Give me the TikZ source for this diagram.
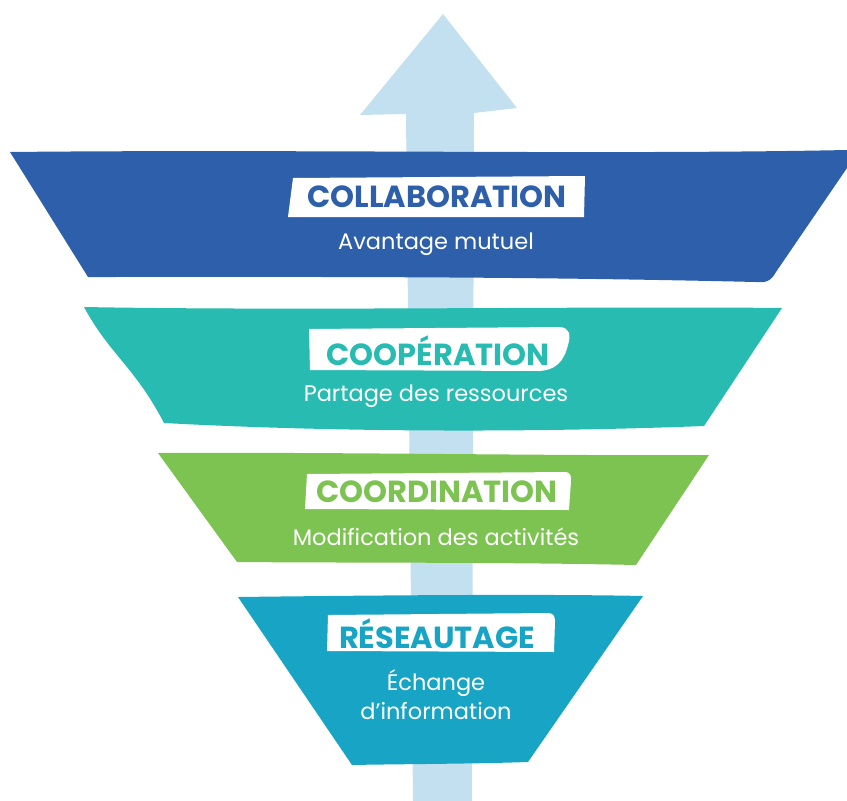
\documentclass[tikz,border=0pt]{standalone}
\usepackage{fontspec}
\setmainfont{Poppins}
\usepackage{xcolor}
\usetikzlibrary{positioning,calc}
\definecolor{arrowblue}{HTML}{C3E0F0}
\definecolor{collabblue}{HTML}{2E5FAA}
\definecolor{coopteal}{HTML}{27BBB1}
\definecolor{coordgreen}{HTML}{7DC352}
\definecolor{reseaublue}{HTML}{18A5C5}

\begin{document}
\begin{tikzpicture}[x=1pt, y=-1pt,
	title/.style={font=\bfseries\fontsize{30.5}{32}\selectfont, inner sep=0pt},
	sub/.style={text=white, font=\fontsize{22.5}{29}\selectfont, align=center, inner sep=0pt}]
			\useasboundingbox (0,0) rectangle (847,801);
			% arrow
			\fill[arrowblue] (413,801) -- (406,114) -- (360,115) -- (443,14) -- (517,108) -- (474,113) -- (472,801) -- cycle;
			% collaboration
			\fill[collabblue] (10,152) .. controls (300,149) and (600,155) .. (847,150) -- (847,168) -- (776,272) .. controls (771,281) and (766,283) .. (756,282) .. controls (500,276) and (300,277) .. (88,277) -- cycle;
			\fill[white] (293,178) -- (585,176) -- (584,217) -- (288,217) -- cycle;
			\node[title, text=collabblue] (collab) at (437,197) {COLLABORATION};
			\node[sub] (collabsub) at (436,244) {Avantage mutuel};
			% cooperation
			\fill[coopteal] (84,307) .. controls (300,311) and (600,306) .. (782,308) -- (704,426) .. controls (550,432) and (350,433) .. (164,423) .. controls (135,367) and (110,355) .. (84,307) -- cycle;
			\fill[white] (309,329) -- (560,327) .. controls (570,328) and (571,335) .. (568,345) .. controls (564,362) and (555,370) .. (540,371) -- (310,370) -- cycle;
			\node[title, text=coopteal] (coop) at (438,351) {COOPÉRATION};
			\node[sub] (coopsub) at (436,396) {Partage des ressources};
			% coordination
			\fill[coordgreen] (158,453) .. controls (350,452) and (550,456) .. (709,455) -- (636,565) .. controls (500,562) and (350,563) .. (237,562) -- cycle;
			\fill[white] (307,474) -- (566,472) .. controls (571,473) and (571,476) .. (571,481) -- (569,510) -- (305,509) -- cycle;
			\node[title, text=coordgreen] (coord) at (437,492) {COORDINATION};
			\node[sub] (coordsub) at (436,537) {Modification des activités};
			% reseautage
			\fill[reseaublue] (238,597) .. controls (400,595) and (550,594) .. (643,596) -- (528,762) .. controls (470,764) and (400,764) .. (352,765) -- cycle;
			\fill[white] (328,615) -- (548,613) .. controls (553,613) and (555,616) .. (555,621) -- (554,652) -- (327,651) -- cycle;
			\node[title, text=reseaublue] (reseau) at (437,634) {RÉSEAUTAGE};
			\node[sub] (reseausub) at (436,695) {Échange\\d’information};
		\end{tikzpicture}
\end{document}
